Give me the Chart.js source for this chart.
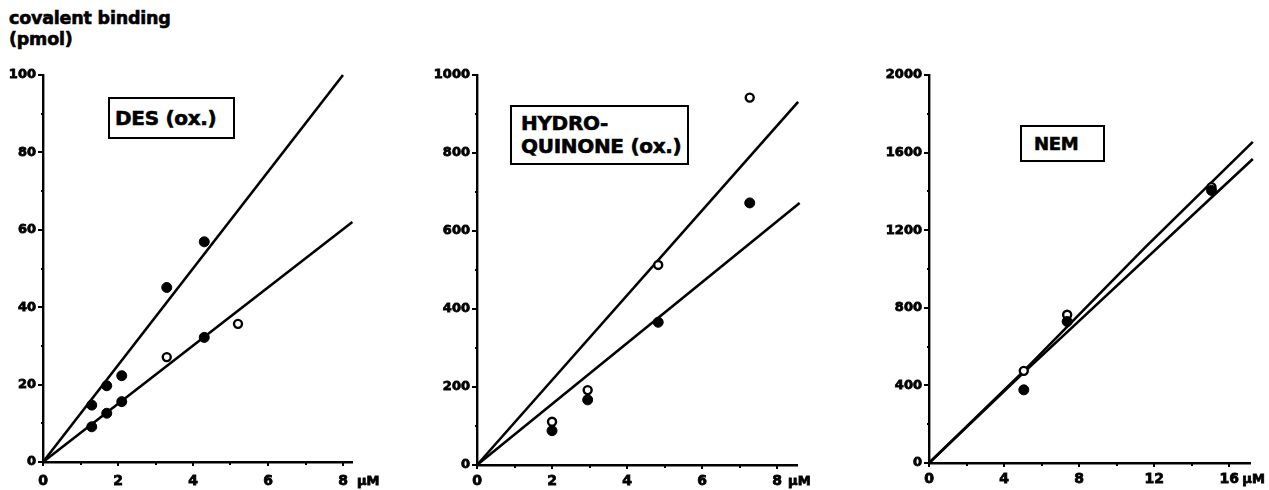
<!DOCTYPE html>
<html>
<head>
<meta charset="utf-8">
<script src="https://cdn.jsdelivr.net/npm/chart.js@4"></script>
<style>
  html, body { margin:0; padding:0; background:#fff; }
  body { width:1269px; height:490px; position:relative; overflow:hidden; font-family:"DejaVu Sans", sans-serif; }
  .pane { position:absolute; }
  .title { position:absolute; left:9px; top:8px; font:bold 17.5px "DejaVu Sans"; line-height:21px; color:#000; letter-spacing:-0.2px; -webkit-text-stroke:0.6px #000; }
  .box { position:absolute; border:2px solid #000; box-sizing:border-box; font:bold 20px "DejaVu Sans"; color:#000; background:#fff; -webkit-text-stroke:0.6px #000; letter-spacing:-0.3px; }
</style>
</head>
<body>
<div class="title">covalent binding<br>(pmol)</div>
<div class="pane" style="left:0px;top:60px"><canvas id="c1" width="390" height="430"></canvas></div>
<div class="pane" style="left:400px;top:60px"><canvas id="c2" width="430" height="430"></canvas></div>
<div class="pane" style="left:850px;top:60px"><canvas id="c3" width="419" height="430"></canvas></div>
<div class="box" style="left:108px;top:97px;width:127px;height:42px;padding:7px 0 0 5px;line-height:24px">DES (ox.)</div>
<div class="box" style="left:510px;top:105px;width:179px;height:60px;padding:5px 0 0 9px;line-height:23px">HYDRO-<br>QUINONE (ox.)</div>
<div class="box" style="left:1020px;top:125px;width:85px;height:37px;padding:5px 0 0 12px;line-height:24px;font-size:18px">NEM</div>
<script>
// ---------- DATA ----------
// Panel 1: DES (ox.)
const des_upper_filled_x = [1.3, 1.7, 2.1, 3.3, 4.3];
const des_upper_filled_y = [14.7, 19.7, 22.3, 45.1, 56.9];
const des_lower_filled_x = [1.3, 1.7, 2.1, 4.3];
const des_lower_filled_y = [9.1, 12.6, 15.6, 32.2];
const des_open_x = [3.3, 5.2];
const des_open_y = [27.1, 35.7];
const des_fit_upper_x = [0, 8.0];
const des_fit_upper_y = [0, 100];
const des_fit_lower_x = [0, 8.25];
const des_fit_lower_y = [0, 62];
const des_x_ticks = [0, 2, 4, 6, 8];
const des_x_minor = [1, 3, 5, 7];
const des_y_ticks = [0, 20, 40, 60, 80, 100];
const des_y_minor = [10, 30, 50, 70, 90];

// Panel 2: HYDROQUINONE (ox.)
const hq_open_x = [2.0, 2.95, 4.83, 7.27];
const hq_open_y = [111, 192, 513, 942];
const hq_filled_x = [2.0, 2.95, 4.83, 7.27];
const hq_filled_y = [88, 167, 366, 672];
const hq_fit_upper_x = [0, 8.56];
const hq_fit_upper_y = [0, 931];
const hq_fit_lower_x = [0, 8.6];
const hq_fit_lower_y = [0, 672];
const hq_x_ticks = [0, 2, 4, 6, 8];
const hq_x_minor = [1, 3, 5, 7];
const hq_y_ticks = [0, 200, 400, 600, 800, 1000];
const hq_y_minor = [100, 300, 500, 700, 900];

// Panel 3: NEM
const nem_open_x = [5.05, 7.36, 15.05];
const nem_open_y = [475, 764, 1422];
const nem_filled_x = [5.05, 7.36, 15.05];
const nem_filled_y = [377, 729, 1405];
const nem_fit_upper_x = [0, 5, 11.5, 17.25];
const nem_fit_upper_y = [0, 470, 1110, 1655];
const nem_fit_lower_x = [0, 5, 17.25];
const nem_fit_lower_y = [0, 462, 1567];
const nem_x_ticks = [0, 4, 8, 12, 16];
const nem_x_minor = [2, 6, 10, 14];
const nem_y_ticks = [0, 400, 800, 1200, 1600, 2000];
const nem_y_minor = [200, 600, 1000, 1400, 1800];

const X_UNIT = 'μM';

// ---------- helpers ----------
const zip = (xs, ys) => xs.map((x, i) => ({x: x, y: ys[i]}));
const TICK_FONT = {family: 'DejaVu Sans', size: 14, weight: 'bold'};

function filled(xs, ys) {
  return {type: 'scatter', data: zip(xs, ys), pointRadius: 5, pointBackgroundColor: '#000',
          pointBorderColor: '#000', pointBorderWidth: 1, showLine: false, clip: false, order: 0};
}
function open(xs, ys) {
  return {type: 'scatter', data: zip(xs, ys), pointRadius: 4, pointBackgroundColor: '#fff',
          pointBorderColor: '#000', pointBorderWidth: 2.4, showLine: false, clip: false, order: 0};
}
function fit(xs, ys) {
  return {type: 'line', data: zip(xs, ys), pointRadius: 0, borderColor: '#000', borderWidth: 2.6,
          tension: 0, fill: false, clip: false, order: 5};
}

const tickPlugin = {
  id: 'axisTicks',
  afterDraw(chart) {
    const o = chart.options.plugins.axisTicks;
    const ctx = chart.ctx, xs = chart.scales.x, ys = chart.scales.y;
    const ca = chart.chartArea;
    ctx.save();
    ctx.strokeStyle = '#000';
    ctx.lineWidth = 2;
    ctx.beginPath();
    o.xMajor.forEach(v => { const p = Math.round(xs.getPixelForValue(v)); ctx.moveTo(p, ca.bottom); ctx.lineTo(p, ca.bottom + 4); });
    o.xMinor.forEach(v => { const p = Math.round(xs.getPixelForValue(v)); ctx.moveTo(p, ca.bottom); ctx.lineTo(p, ca.bottom + 3); });
    o.yMajor.forEach(v => { const p = Math.round(ys.getPixelForValue(v)); ctx.moveTo(ca.left, p); ctx.lineTo(ca.left - 5, p); });
    o.yMinor.forEach(v => { const p = Math.round(ys.getPixelForValue(v)); ctx.moveTo(ca.left, p); ctx.lineTo(ca.left - 2, p); });
    ctx.stroke();
    // unit label after last major x tick
    const last = o.xMajor[o.xMajor.length - 1];
    ctx.fillStyle = '#000';
    ctx.strokeStyle = '#000';
    ctx.lineWidth = 0.8;
    ctx.font = 'bold 13px "DejaVu Sans"';
    ctx.textAlign = 'left';
    ctx.textBaseline = 'top';
    const ux = xs.getPixelForValue(last) + o.unitGap, uy = ca.bottom + o.labelPad + 2;
    ctx.fillText(X_UNIT, ux, uy);
    ctx.strokeText(X_UNIT, ux, uy);
    ctx.restore();
  }
};

function makeChart(id, datasets, cfg) {
  return new Chart(document.getElementById(id), {
    data: {datasets: datasets},
    plugins: [tickPlugin],
    options: {
      responsive: false, animation: false, devicePixelRatio: 1,
      layout: {padding: {left: 0, right: cfg.padRight, top: 15, bottom: 0}},
      plugins: {legend: {display: false}, tooltip: {enabled: false},
        axisTicks: {xMajor: cfg.xTicks, xMinor: cfg.xMinor, yMajor: cfg.yTicks, yMinor: cfg.yMinor,
                    unitGap: cfg.unitGap, labelPad: cfg.labelPad}},
      scales: {
        x: {type: 'linear', position: 'bottom', min: 0, max: cfg.xMax,
            grid: {display: false, drawTicks: false},
            border: {display: true, width: 2.4, color: '#000'},
            ticks: {font: TICK_FONT, color: '#000', padding: cfg.labelPad, maxRotation: 0, autoSkip: false,
                    textStrokeColor: '#000', textStrokeWidth: 0.8,
                    callback: v => String(v)},
            afterBuildTicks: s => { s.ticks = cfg.xTicks.map(v => ({value: v})); },
            afterFit: s => { s.height = cfg.xHeight; }},
        y: {type: 'linear', position: 'left', min: 0, max: cfg.yMax,
            grid: {display: false, drawTicks: false},
            border: {display: true, width: 2.4, color: '#000'},
            ticks: {font: {family: 'DejaVu Sans', size: 13, weight: 'bold'}, color: '#000', padding: 7, autoSkip: false,
                    textStrokeColor: '#000', textStrokeWidth: 0.8,
                    callback: v => String(v)},
            afterBuildTicks: s => { s.ticks = cfg.yTicks.map(v => ({value: v})); },
            afterFit: s => { s.width = cfg.yWidth; }}
      }
    }
  });
}

makeChart('c1', [
  filled(des_upper_filled_x, des_upper_filled_y),
  filled(des_lower_filled_x, des_lower_filled_y),
  open(des_open_x, des_open_y),
  fit(des_fit_upper_x, des_fit_upper_y),
  fit(des_fit_lower_x, des_fit_lower_y)
], {xMax: 8.24, yMax: 100, xTicks: des_x_ticks, xMinor: des_x_minor, yTicks: des_y_ticks, yMinor: des_y_minor,
    padRight: 38, yWidth: 43, xHeight: 28, labelPad: 11, unitGap: 14});

makeChart('c2', [
  open(hq_open_x, hq_open_y),
  filled(hq_filled_x, hq_filled_y),
  fit(hq_fit_upper_x, hq_fit_upper_y),
  fit(hq_fit_lower_x, hq_fit_lower_y)
], {xMax: 8.53, yMax: 1000, xTicks: hq_x_ticks, xMinor: hq_x_minor, yTicks: hq_y_ticks, yMinor: hq_y_minor,
    padRight: 33, yWidth: 77, xHeight: 25, labelPad: 8, unitGap: 11});

makeChart('c3', [
  filled(nem_filled_x, nem_filled_y),
  open(nem_open_x, nem_open_y),
  fit(nem_fit_upper_x, nem_fit_upper_y),
  fit(nem_fit_lower_x, nem_fit_lower_y)
], {xMax: 17.1, yMax: 2000, xTicks: nem_x_ticks, xMinor: nem_x_minor, yTicks: nem_y_ticks, yMinor: nem_y_minor,
    padRight: 19, yWidth: 79, xHeight: 27, labelPad: 8, unitGap: 13});
</script>
</body>
</html>
